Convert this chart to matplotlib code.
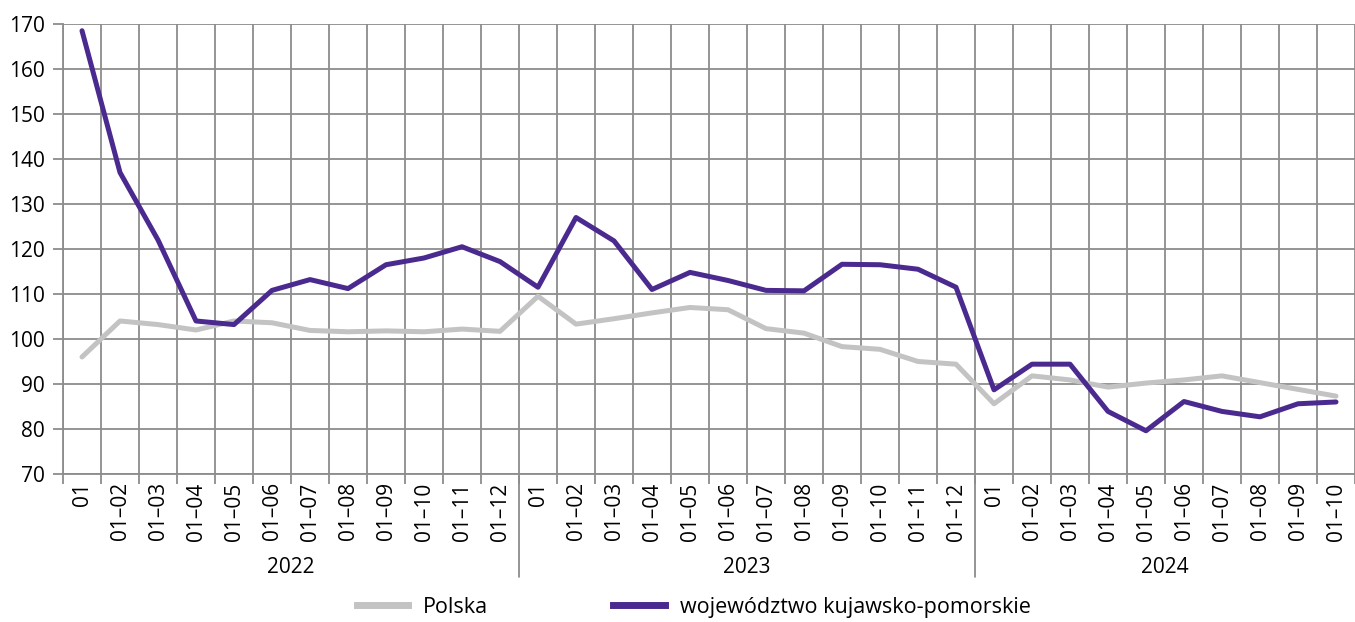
import matplotlib.pyplot as plt
from matplotlib.lines import Line2D

# Data
years = ["2022", "2023", "2024"]
months_per_year = [12, 12, 10]
month_labels = ["01", "01–02", "01–03", "01–04", "01–05", "01–06",
                "01–07", "01–08", "01–09", "01–10", "01–11", "01–12"]

polska = [96.0, 104.0, 103.2, 102.0, 104.0, 103.6, 101.9, 101.6, 101.8, 101.6, 102.2, 101.7,
          109.5, 103.3, 104.5, 105.8, 107.0, 106.5, 102.3, 101.3, 98.3, 97.7, 95.0, 94.4,
          85.6, 91.8, 90.9, 89.3, 90.2, 90.9, 91.8, 90.3, 88.8, 87.3]
kujawsko = [168.5, 137.0, 122.0, 104.0, 103.2, 110.8, 113.2, 111.2, 116.5, 118.0, 120.5, 117.2,
            111.5, 127.0, 121.8, 111.0, 114.8, 113.0, 110.8, 110.7, 116.6, 116.5, 115.5, 111.5,
            88.7, 94.4, 94.4, 83.9, 79.6, 86.1, 83.9, 82.7, 85.6, 86.0]

labels = []
for n in months_per_year:
    labels += month_labels[:n]
x = list(range(len(labels)))

plt.rcParams['font.family'] = ['Open Sans', 'DejaVu Sans']

grey = "#c3c3c3"
purple = "#4b2a8f"
grid_col = "#8c8c8c"

fig = plt.figure(figsize=(13.55, 6.22), dpi=100)
ax = fig.add_axes([0.0465, 0.238, 0.9535, 0.7234])

ax.plot(x, polska, color=grey, lw=3.6, solid_capstyle="round", zorder=3)
ax.plot(x, kujawsko, color=purple, lw=3.6, solid_capstyle="round", zorder=4)

ax.set_ylim(70, 170)
ax.set_xlim(-0.5, 33.34)
ax.set_yticks(range(70, 171, 10))
ax.tick_params(axis="y", labelsize=15, length=7, color=grid_col, width=1.3, pad=6)

# vertical grid at category boundaries
bounds = [i - 0.5 for i in range(len(labels) + 1)]
for b in bounds:
    ax.axvline(b, color=grid_col, lw=1.3, zorder=1)
ax.grid(axis="y", color=grid_col, lw=1.3, zorder=1)
ax.set_axisbelow(True)

ax.set_xticks(bounds)
ax.set_xticklabels([])
ax.tick_params(axis="x", length=7, color=grid_col, width=1.3)
ax.set_xticks(x, minor=True)
ax.set_xticklabels(labels, minor=True, rotation=90, fontsize=15)
ax.tick_params(axis="x", which="minor", length=0, pad=6)

for s in ["top", "right"]:
    ax.spines[s].set_visible(False)
ax.spines["left"].set_color(grid_col)
ax.spines["bottom"].set_color(grid_col)
ax.spines["left"].set_linewidth(1.3)
ax.spines["bottom"].set_linewidth(1.3)

# year separators and labels
start = 0
for i, (yr, n) in enumerate(zip(years, months_per_year)):
    if i > 0:
        ax.annotate("", xy=(start - 0.5, 0), xycoords=("data", "axes fraction"),
                    xytext=(start - 0.5, -0.235), textcoords=("data", "axes fraction"),
                    arrowprops=dict(arrowstyle="-", color=grid_col, lw=1.3))
    ax.text(start + (n - 1) / 2, -0.207, yr, transform=ax.get_xaxis_transform(),
            ha="center", va="center", fontsize=15)
    start += n

handles = [Line2D([], [], color=grey, lw=5),
           Line2D([], [], color=purple, lw=5)]
fig.legend(handles, ["Polska", "województwo kujawsko-pomorskie"],
           loc="center", bbox_to_anchor=(0.512, 0.024), ncol=2, frameon=False,
           fontsize=15.5, handlelength=2.4, columnspacing=5.8, handletextpad=0.7,
           borderpad=0.1)

fig.savefig("out.png", dpi=100)
